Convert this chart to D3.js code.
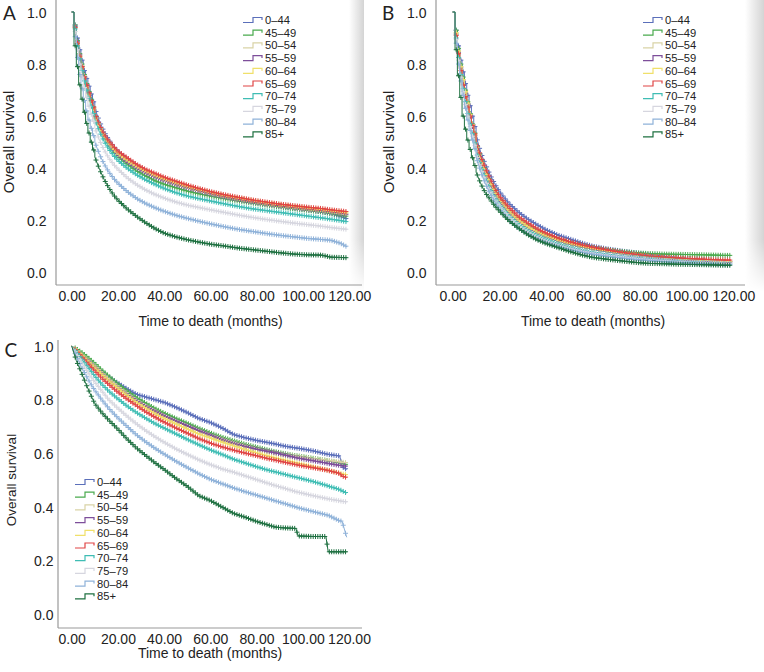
<!DOCTYPE html>
<html><head><meta charset="utf-8">
<script src="https://cdn.jsdelivr.net/npm/d3@7"></script>
<style>body{margin:0;background:#fff}svg{display:block}text{font-family:"Liberation Sans",Arial,sans-serif;fill:#222}</style>
</head><body><svg id="chart" width="764" height="672"></svg>
<script>
// ---------- data ----------
const groups = ["0–44","45–49","50–54","55–59","60–64","65–69","70–74","75–79","80–84","85+"];
const colors = ["#5b6fba","#4aaa4e","#d9d3a6","#7d4e9a","#f0e06a","#e04545","#3fbdb4","#d6d6df","#8fb2d9","#1e7040"];
const xTicks = [0,20,40,60,80,100,120];
const yTicks = [0,0.2,0.4,0.6,0.8,1.0];
const timesAB = [0,1,2,3,4,5,6,7,8,9,10,12,14,16,18,20,24,28,32,36,40,45,50,55,60,66,72,78,84,90,96,102,108,112,116,119];
const timesC = [0,2,4,6,8,10,13,16,20,24,28,32,36,40,45,50,55,60,65,70,75,80,85,88,92,97,98,104,110,111,116,117,119];
const censorTimes = [1.5,2.5,3.5,4.5,5.5,6.5,7.5,8.5,9.5,10.5,11.5,12.5,13.5,14.5,15.5,16.5,17.5,18.5,19.5,20.5,21.5,22.5,23.5,24.5,25.5,26.5,27.5,28.5,29.5,30.5,31.5,32.5,33.5,34.5,35.5,36.5,37.5,38.5,39.5,40.5,41.5,42.5,43.5,44.5,45.5,46.5,47.5,48.5,49.5,50.5,51.5,52.5,53.5,54.5,55.5,56.5,57.5,58.5,59.5,60.5,61.5,62.5,63.5,64.5,65.5,66.5,67.5,68.5,69.5,70.5,71.5,72.5,73.5,74.5,75.5,76.5,77.5,78.5,79.5,80.5,81.5,82.5,83.5,84.5,85.5,86.5,87.5,88.5,89.5,90.5,91.5,92.5,93.5,94.5,95.5,96.5,97.5,98.5,99.5,100.5,101.5,102.5,103.5,104.5,105.5,106.5,107.5,108.5,109.5,110.5,111.5,112.5,113.5,114.5,115.5,116.5,117.5,118.5];

const panelA = [
 [1,0.95,0.9,0.855,0.815,0.775,0.745,0.715,0.685,0.655,0.63,0.58,0.54,0.51,0.485,0.465,0.435,0.41,0.39,0.372,0.356,0.34,0.326,0.313,0.302,0.29,0.28,0.27,0.262,0.254,0.246,0.24,0.232,0.226,0.215,0.205],
 [1,0.95,0.89,0.84,0.8,0.76,0.725,0.695,0.665,0.635,0.61,0.56,0.52,0.49,0.465,0.445,0.415,0.39,0.37,0.352,0.338,0.325,0.312,0.302,0.293,0.283,0.274,0.266,0.258,0.251,0.244,0.238,0.232,0.226,0.22,0.215],
 [1,0.945,0.885,0.835,0.795,0.755,0.72,0.69,0.66,0.633,0.607,0.56,0.525,0.497,0.475,0.455,0.428,0.405,0.386,0.37,0.355,0.34,0.326,0.314,0.303,0.291,0.281,0.272,0.263,0.256,0.249,0.243,0.237,0.232,0.228,0.224],
 [1,0.945,0.885,0.835,0.79,0.75,0.717,0.686,0.657,0.63,0.604,0.558,0.522,0.494,0.472,0.452,0.425,0.402,0.383,0.367,0.353,0.338,0.325,0.313,0.302,0.29,0.28,0.271,0.263,0.256,0.249,0.243,0.237,0.232,0.227,0.222],
 [1,0.94,0.88,0.83,0.787,0.748,0.714,0.684,0.655,0.628,0.603,0.558,0.523,0.497,0.476,0.457,0.431,0.408,0.389,0.373,0.359,0.344,0.33,0.318,0.307,0.295,0.285,0.276,0.267,0.26,0.253,0.247,0.241,0.236,0.232,0.228],
 [1,0.94,0.88,0.83,0.79,0.75,0.72,0.69,0.66,0.635,0.61,0.565,0.53,0.505,0.485,0.465,0.44,0.415,0.395,0.38,0.365,0.35,0.335,0.322,0.31,0.298,0.288,0.278,0.27,0.262,0.256,0.25,0.245,0.24,0.236,0.233],
 [1,0.935,0.87,0.82,0.775,0.735,0.7,0.668,0.638,0.61,0.585,0.54,0.503,0.474,0.45,0.43,0.4,0.375,0.355,0.338,0.322,0.306,0.293,0.283,0.274,0.263,0.253,0.244,0.237,0.23,0.223,0.216,0.209,0.204,0.199,0.194],
 [1,0.925,0.855,0.8,0.75,0.71,0.672,0.638,0.607,0.58,0.555,0.508,0.47,0.44,0.416,0.396,0.363,0.337,0.316,0.299,0.285,0.27,0.258,0.249,0.24,0.23,0.22,0.211,0.203,0.196,0.189,0.183,0.177,0.172,0.168,0.165],
 [1,0.905,0.825,0.76,0.705,0.66,0.62,0.585,0.553,0.525,0.5,0.453,0.416,0.386,0.362,0.342,0.31,0.284,0.264,0.248,0.234,0.219,0.207,0.196,0.186,0.175,0.165,0.157,0.149,0.142,0.136,0.13,0.126,0.123,0.112,0.098],
 [1,0.87,0.79,0.72,0.665,0.615,0.572,0.535,0.5,0.47,0.443,0.396,0.357,0.325,0.298,0.277,0.243,0.215,0.19,0.168,0.15,0.136,0.125,0.116,0.108,0.101,0.093,0.087,0.081,0.075,0.07,0.067,0.066,0.058,0.057,0.056]
];
const panelB = [
 [1,0.93,0.87,0.815,0.77,0.725,0.68,0.64,0.6,0.56,0.525,0.46,0.415,0.375,0.34,0.31,0.265,0.232,0.205,0.183,0.163,0.143,0.128,0.113,0.1,0.09,0.082,0.075,0.068,0.062,0.057,0.052,0.048,0.045,0.042,0.04],
 [1,0.93,0.86,0.8,0.75,0.7,0.655,0.61,0.57,0.535,0.5,0.44,0.39,0.35,0.315,0.285,0.24,0.205,0.18,0.16,0.143,0.127,0.114,0.104,0.095,0.087,0.08,0.075,0.072,0.07,0.069,0.068,0.067,0.066,0.065,0.065],
 [1,0.92,0.85,0.79,0.74,0.69,0.645,0.6,0.56,0.525,0.49,0.43,0.38,0.34,0.305,0.277,0.232,0.198,0.172,0.152,0.136,0.12,0.107,0.097,0.088,0.079,0.071,0.064,0.058,0.053,0.049,0.046,0.043,0.041,0.04,0.04],
 [1,0.915,0.845,0.785,0.735,0.688,0.643,0.6,0.56,0.524,0.49,0.43,0.38,0.34,0.306,0.278,0.233,0.2,0.174,0.154,0.138,0.121,0.108,0.098,0.089,0.08,0.072,0.065,0.059,0.054,0.05,0.047,0.044,0.042,0.041,0.04],
 [1,0.92,0.85,0.79,0.74,0.695,0.65,0.607,0.567,0.53,0.495,0.435,0.385,0.345,0.31,0.282,0.237,0.203,0.177,0.157,0.141,0.124,0.111,0.1,0.091,0.082,0.074,0.067,0.061,0.056,0.052,0.049,0.046,0.044,0.043,0.042],
 [1,0.91,0.84,0.775,0.72,0.675,0.635,0.6,0.565,0.532,0.5,0.445,0.4,0.36,0.322,0.292,0.25,0.215,0.19,0.168,0.15,0.132,0.118,0.106,0.096,0.086,0.077,0.069,0.062,0.058,0.055,0.052,0.05,0.048,0.047,0.047],
 [1,0.9,0.825,0.76,0.705,0.655,0.61,0.57,0.532,0.497,0.465,0.407,0.36,0.321,0.288,0.26,0.216,0.184,0.16,0.141,0.126,0.11,0.097,0.087,0.078,0.07,0.063,0.057,0.052,0.047,0.043,0.04,0.037,0.035,0.034,0.033],
 [1,0.895,0.815,0.75,0.695,0.645,0.6,0.56,0.523,0.488,0.456,0.398,0.351,0.312,0.28,0.253,0.21,0.178,0.154,0.135,0.12,0.104,0.092,0.082,0.074,0.066,0.06,0.054,0.049,0.045,0.041,0.038,0.036,0.035,0.034,0.033],
 [1,0.88,0.8,0.735,0.68,0.63,0.585,0.545,0.508,0.474,0.443,0.386,0.34,0.302,0.27,0.243,0.2,0.17,0.147,0.129,0.114,0.099,0.087,0.077,0.069,0.061,0.055,0.049,0.045,0.041,0.038,0.035,0.033,0.031,0.03,0.03],
 [1,0.855,0.755,0.672,0.6,0.55,0.508,0.472,0.44,0.41,0.385,0.34,0.305,0.28,0.255,0.235,0.198,0.17,0.145,0.125,0.11,0.095,0.08,0.067,0.057,0.05,0.044,0.038,0.034,0.033,0.031,0.03,0.029,0.028,0.027,0.027]
];
const panelC = [
 [1,0.985,0.97,0.955,0.94,0.925,0.905,0.885,0.862,0.84,0.82,0.81,0.8,0.79,0.772,0.752,0.73,0.715,0.695,0.67,0.658,0.648,0.64,0.635,0.627,0.62,0.619,0.61,0.598,0.596,0.59,0.55,0.54],
 [1,0.99,0.978,0.965,0.95,0.935,0.91,0.888,0.858,0.832,0.808,0.787,0.767,0.75,0.73,0.712,0.693,0.676,0.66,0.647,0.634,0.623,0.612,0.606,0.599,0.591,0.59,0.582,0.574,0.572,0.564,0.562,0.558],
 [1,0.985,0.97,0.955,0.94,0.925,0.9,0.876,0.848,0.822,0.797,0.776,0.758,0.74,0.72,0.702,0.685,0.668,0.653,0.64,0.628,0.617,0.607,0.602,0.595,0.589,0.588,0.58,0.574,0.573,0.568,0.567,0.565],
 [1,0.984,0.968,0.952,0.936,0.92,0.895,0.871,0.843,0.818,0.795,0.774,0.756,0.739,0.72,0.702,0.684,0.667,0.65,0.636,0.625,0.615,0.607,0.602,0.594,0.584,0.582,0.573,0.564,0.562,0.555,0.554,0.552],
 [1,0.985,0.968,0.951,0.934,0.918,0.894,0.87,0.842,0.815,0.79,0.768,0.748,0.73,0.71,0.691,0.672,0.657,0.642,0.628,0.614,0.602,0.59,0.583,0.575,0.565,0.563,0.551,0.539,0.537,0.526,0.523,0.52],
 [1,0.982,0.963,0.944,0.925,0.906,0.88,0.857,0.828,0.802,0.778,0.755,0.735,0.716,0.695,0.675,0.655,0.638,0.624,0.612,0.601,0.591,0.58,0.575,0.567,0.558,0.556,0.547,0.538,0.536,0.525,0.515,0.51],
 [1,0.978,0.955,0.932,0.91,0.888,0.858,0.832,0.803,0.776,0.752,0.731,0.711,0.694,0.673,0.652,0.632,0.613,0.596,0.578,0.564,0.55,0.537,0.531,0.522,0.511,0.509,0.496,0.481,0.478,0.465,0.46,0.452],
 [1,0.972,0.943,0.915,0.89,0.866,0.833,0.8,0.768,0.738,0.71,0.685,0.662,0.641,0.617,0.596,0.576,0.558,0.542,0.53,0.516,0.502,0.488,0.48,0.47,0.457,0.455,0.443,0.432,0.43,0.423,0.421,0.419],
 [1,0.962,0.925,0.893,0.862,0.835,0.8,0.768,0.732,0.7,0.669,0.643,0.619,0.597,0.571,0.547,0.524,0.503,0.487,0.471,0.457,0.444,0.431,0.423,0.413,0.4,0.397,0.384,0.371,0.369,0.348,0.347,0.287],
 [1,0.945,0.905,0.862,0.822,0.785,0.752,0.724,0.69,0.653,0.62,0.592,0.565,0.54,0.507,0.477,0.442,0.424,0.4,0.376,0.362,0.346,0.333,0.325,0.322,0.32,0.292,0.29,0.29,0.233,0.233,0.233,0.233]
];

// ---------- layout ----------
const panels = [
 {rows:panelA, times:timesAB, stepUntil:10, xr:[71.7,349.4], yr:[272.3,12], ax:[56,362], ay:[0,285], tickBase:300.5, yLabEnd:46.5,
  title:[210.5,325.5], ytitle:[14,142,15], letter:["A",3,20], legend:[243,20,12.7], strip:[349,15,292]},
 {rows:panelB, times:timesAB, stepUntil:10, xr:[452.7,733.3], yr:[272.3,12], ax:[436,745], ay:[0,285], tickBase:300.5, yLabEnd:426.5,
  title:[593,325.5], ytitle:[394,142,15], letter:["B",382,19.5], legend:[643,20,12.7], strip:[745,19,292]},
 {rows:panelC, times:timesC, stepUntil:0, xr:[71.7,349], yr:[614.3,346], ax:[58,362], ay:[340,628], tickBase:643.5, yLabEnd:53.5,
  title:[210,658], ytitle:[16,480,13.5], letter:["C",4.5,357], legend:[75,482,12.7], strip:null}
];

const svg = d3.select("#chart");
const defs = svg.append("defs");
const hg = defs.append("linearGradient").attr("id","hg").attr("x1",0).attr("x2",1).attr("y1",0).attr("y2",0);
hg.append("stop").attr("offset",0).attr("stop-color","#fff");
hg.append("stop").attr("offset",1).attr("stop-color","#d4d4d4");
const vg = defs.append("linearGradient").attr("id","vg").attr("x1",0).attr("x2",0).attr("y1",0).attr("y2",1);
vg.append("stop").attr("offset",0).attr("stop-color","#fff");
vg.append("stop").attr("offset",0.82).attr("stop-color","#fff");
vg.append("stop").attr("offset",1).attr("stop-color","#000");
const mask = defs.append("mask").attr("id","vm").attr("maskContentUnits","objectBoundingBox");
mask.append("rect").attr("width",1).attr("height",1).attr("fill","url(#vg)");

const cross = "M-2.5,0H2.5M0,-2.5V2.5";

panels.forEach(p => {
  const g = svg.append("g");
  const x = d3.scaleLinear().domain([0,120]).range(p.xr);
  const y = d3.scaleLinear().domain([0,1]).range(p.yr);

  if (p.strip) {
    g.append("rect").attr("x",p.strip[0]).attr("y",0).attr("width",p.strip[1]).attr("height",p.strip[2])
      .attr("fill","url(#hg)").attr("mask","url(#vm)");
  }

  g.append("line").attr("x1",p.ax[0]).attr("x2",p.ax[1]).attr("y1",p.ay[1]).attr("y2",p.ay[1])
    .attr("stroke","#999").attr("stroke-width",1.2);
  g.append("line").attr("x1",p.ax[0]).attr("x2",p.ax[0]).attr("y1",p.ay[0]).attr("y2",p.ay[1])
    .attr("stroke","#999").attr("stroke-width",1.2);

  const xa = g.append("g").attr("transform",`translate(0,${p.ay[1]})`)
    .call(d3.axisBottom(x).tickValues(xTicks).tickSize(0).tickFormat(d3.format(".2f")));
  xa.select(".domain").remove();
  xa.selectAll("text").attr("y",p.tickBase-p.ay[1]).attr("dy",null)
    .style("font-size","14px").style("font-family","'Liberation Sans',Arial,sans-serif").attr("fill","#222");

  const ya = g.append("g").attr("transform",`translate(${p.yLabEnd},0)`)
    .call(d3.axisLeft(y).tickValues(yTicks).tickSize(0).tickPadding(0).tickFormat(d3.format(".1f")));
  ya.select(".domain").remove();
  ya.selectAll("text").attr("dy","0.36em").attr("x",0)
    .style("font-size","14px").style("font-family","'Liberation Sans',Arial,sans-serif").attr("fill","#222");

  g.append("text").attr("x",p.title[0]).attr("y",p.title[1]).attr("text-anchor","middle")
    .style("font-size","14px").text("Time to death (months)");
  g.append("text").attr("transform",`translate(${p.ytitle[0]},${p.ytitle[1]}) rotate(-90)`)
    .attr("text-anchor","middle").style("font-size",p.ytitle[2]+"px").text("Overall survival");
  g.append("text").attr("x",p.letter[1]).attr("y",p.letter[2])
    .style("font-family","Lato,'Open Sans',sans-serif").style("font-size","19px").text(p.letter[0]);

  const stepLine = d3.line().curve(d3.curveStepAfter).x(d=>x(d[0])).y(d=>y(d[1]));
  const linLine = d3.line().x(d=>x(d[0])).y(d=>y(d[1]));
  const cut = p.stepUntil;
  const valueAt = (vals, t) => {
    const j = d3.bisectRight(p.times, t) - 1;
    if (t <= cut || j >= p.times.length - 1) return vals[j];
    const t0 = p.times[j], t1 = p.times[j+1];
    return vals[j] + (vals[j+1]-vals[j]) * (t - t0) / (t1 - t0);
  };
  p.rows.forEach((vals,i) => {
    const pts = p.times.map((t,j)=>[t,vals[j]]);
    const early = pts.filter(d => d[0] <= cut);
    const late = pts.filter(d => d[0] >= cut);
    const d = (early.length > 1 ? stepLine(early) : "") + linLine(late);
    g.append("path").attr("d",d).attr("fill","none")
      .attr("stroke",colors[i]).attr("stroke-width",1);
    const tmax = p.times[p.times.length-1];
    const marks = censorTimes.filter(t => t <= tmax).map(t => [t, valueAt(vals, t)]);
    g.append("g").selectAll("path").data(marks).join("path")
      .attr("transform",d=>`translate(${x(d[0])},${y(d[1])})`)
      .attr("d",cross).attr("stroke",colors[i]).attr("stroke-width",1).attr("fill","none");
  });

  const lg = g.append("g");
  groups.forEach((name,i) => {
    const cy = p.legend[1] + i*p.legend[2];
    const x0 = p.legend[0];
    lg.append("path").attr("d",`M${x0},${cy+2.5}H${x0+10}V${cy-2.5}H${x0+19}V${cy}`)
      .attr("fill","none").attr("stroke",colors[i]).attr("stroke-width",1.2);
    lg.append("text").attr("x",x0+22).attr("y",cy+4).style("font-size","11.2px").text(name);
  });
});
</script>
</body></html>
